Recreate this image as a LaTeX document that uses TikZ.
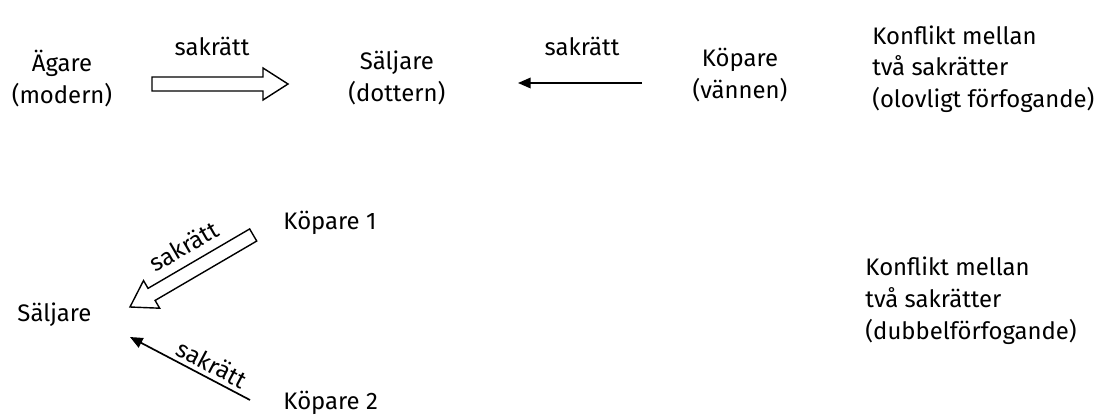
\documentclass[tikz,border=0pt]{standalone}
\usepackage{fontspec}
\setmainfont{Fira Sans}
\usetikzlibrary{calc,arrows.meta,positioning}

\newcommand{\hollowarrow}[2]{%
  \coordinate (hb) at ($(#2)!0.625cm!(#1)$);
  \draw[hollow] ($(#1)!0.175cm!90:(#2)$) -- ($(hb)!0.175cm!90:(#2)$)
    -- ($(hb)!0.4cm!90:(#2)$) -- (#2) -- ($(hb)!0.4cm!-90:(#2)$)
    -- ($(hb)!0.175cm!-90:(#2)$) -- ($(#1)!0.175cm!-90:(#2)$) -- cycle;
}

\begin{document}
\begin{tikzpicture}[every node/.style={inner sep=0pt, font=\fontsize{17}{22.5}\selectfont},
    party/.style={align=center},
    conflict/.style={align=left, anchor=west},
    hollow/.style={line width=1pt, line join=miter},
    solid/.style={line width=1.2pt, -{Triangle[length=9pt,width=7.5pt]}}]
      \useasboundingbox (0, 0) rectangle (27.6, -10.425);

      % olovligt foerfogande
      \node[party] (owner) at (1.55, -1.96) {Ägare\\(modern)};
      \node[party] (seller) at (9.92, -1.95) {Säljare\\(dottern)};
      \node[party] (buyer) at (18.5, -1.88) {Köpare\\(vännen)};
      \node[conflict] (conflictA) at (21.8, -1.73) {Konflikt mellan\\två sakrätter\\(olovligt förfogande)};

      \node (lab1) at (5.3, -1.15) {sakrätt};
      \node (lab2) at (14.55, -1.15) {sakrätt};

      \coordinate (a1s) at (3.8, -2.1);
      \coordinate (a1e) at (7.2, -2.1);
      \coordinate (a2s) at (16.05, -2.075);
      \coordinate (a2e) at (12.95, -2.075);

      \hollowarrow{a1s}{a1e}
      \draw[solid] (a2s) -- (a2e);

      % dubbelfoerfogande
      \node[anchor=west] (buyer1) at (7.08, -5.575) {Köpare 1};
      \node[anchor=west] (seller2) at (0.43, -7.875) {Säljare};
      \node[anchor=west] (buyer2) at (7.08, -10.075) {Köpare 2};
      \node[conflict] (conflictB) at (21.63, -7.52) {Konflikt mellan\\två sakrätter\\(dubbelförfogande)};

      \coordinate (b1s) at (6.33, -5.875);
      \coordinate (b1e) at (3.25, -7.675);
      \coordinate (b2s) at (6.25, -10.0);
      \coordinate (b2e) at (3.25, -8.425);

      \hollowarrow{b1s}{b1e}
      \draw[solid] (b2s) -- (b2e);

      \node[rotate=30] (lab3) at (4.59, -6.15) {sakrätt};
      \node[rotate=-28] (lab4) at (5.3, -9.09) {sakrätt};
    \end{tikzpicture}
\end{document}
